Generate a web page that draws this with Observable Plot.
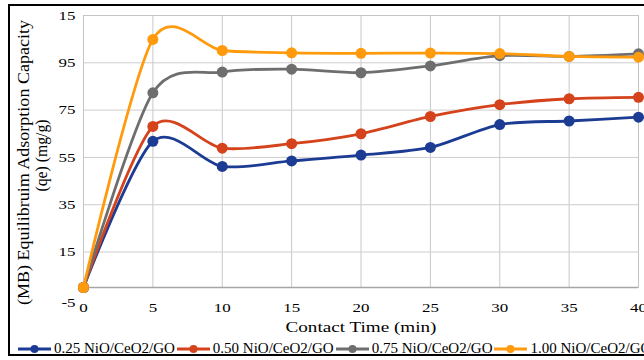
<!DOCTYPE html>
<html><head><meta charset="utf-8">
<script src="https://cdn.jsdelivr.net/npm/d3@7"></script>
<script src="https://cdn.jsdelivr.net/npm/@observablehq/plot@0.6"></script>
<style>
html,body{margin:0;padding:0;background:#fff;overflow:hidden}
#wrap{position:relative;width:644px;height:360px;overflow:hidden;background:#fff}
#border{position:absolute;left:8px;top:4px;width:700px;height:348px;border:2px solid #000}
#chart{position:absolute;left:0;top:0}
#legend{position:absolute;left:18px;top:340px;display:flex;align-items:center;white-space:nowrap;font-family:"Liberation Serif",serif;font-size:15px;line-height:17px;color:#000}
#legend .item{display:flex;align-items:center}
#legend svg{margin-right:3px;display:block}
#legend .lab{margin-right:2px}
</style></head>
<body>
<div id="wrap"><div id="border"></div><div id="chart"></div><div id="legend"></div></div>
<script>
const times = [0, 5, 10, 15, 20, 25, 30, 35, 40];
const seriesNames = ["0.25 NiO/CeO2/GO", "0.50 NiO/CeO2/GO", "0.75 NiO/CeO2/GO", "1.00 NiO/CeO2/GO"];
const qe025 = [0, 61.8, 51.2, 53.5, 56.0, 59.2, 68.9, 70.4, 72.0];
const qe050 = [0, 68.1, 58.9, 60.8, 65.0, 72.3, 77.3, 79.8, 80.4];
const qe075 = [0, 82.3, 91.1, 92.3, 90.8, 93.7, 98.0, 97.7, 98.8];
const qe100 = [0, 104.9, 100.2, 99.2, 99.0, 99.1, 98.9, 97.7, 97.4];
const seriesColors = ["#1c3c94", "#d5431c", "#6e6e6e", "#ff9a0c"];
const xTicks = [0, 5, 10, 15, 20, 25, 30, 35, 40];
const yTicks = [15, 35, 55, 75, 95, 115];
const yTickLabels = ["15", "35", "55", "75", "95", "15"];
const yExtraTick = [-5];
const xTitle = "Contact Time (min)";
const yTitle1 = "(MB) Equilibruim Adsorption Capacity";
const yTitle2 = "(qe) (mg/g)";

const values = [qe025, qe050, qe075, qe100];
const rows = seriesNames.flatMap((s, i) => times.map((t, j) => ({series: s, time: t, qe: values[i][j]})));

const seriesMarks = seriesNames.flatMap(s => {
  const d = rows.filter(r => r.series === s);
  return [
    Plot.line(d, {x: "time", y: "qe", stroke: "series", strokeWidth: 2.8, curve: "cardinal", tension: 0.15}),
    Plot.dot(d, {x: "time", y: "qe", fill: "series", r: 5.5})
  ];
});

const chart = Plot.plot({
  width: 644, height: 360,
  marginLeft: 83, marginRight: 6, marginTop: 15, marginBottom: 73,
  style: {fontFamily: "'Liberation Serif', serif", fontSize: "13px", background: "transparent", color: "#000"},
  x: {domain: [0, 40], label: null},
  y: {domain: [0, 115], label: null},
  color: {domain: seriesNames, range: seriesColors},
  marks: [
    Plot.gridX(xTicks, {stroke: "#c8c8c8", strokeOpacity: 1}),
    Plot.gridY(yTicks, {stroke: "#cdcdcd", strokeOpacity: 1}),
    Plot.frame({stroke: "#c4c4c4"}),
    Plot.ruleY([0], {stroke: "#a6a6a6", strokeWidth: 1.6}),
    Plot.axisX(xTicks, {tickSize: 0, tickPadding: 15, tickFormat: d => String(d), fill: "#000", label: null}),
    Plot.axisY(yTicks, {tickSize: 0, tickPadding: 8, tickFormat: d => yTickLabels[yTicks.indexOf(d)], fill: "#000", label: null}),
    Plot.text(yExtraTick, {y: d => d, frameAnchor: "left", dx: -8, dy: 4, textAnchor: "end", text: d => String(d)}),
    Plot.text([xTitle], {frameAnchor: "bottom", dy: 44, text: d => d, fontSize: 15}),
    Plot.text([yTitle1], {frameAnchor: "left", textAnchor: "middle", rotate: -90, dx: -60, dy: 11, text: d => d, fontSize: 16}),
    Plot.text([yTitle2], {frameAnchor: "left", textAnchor: "middle", rotate: -90, dx: -42, dy: 4, text: d => d, fontSize: 16}),
    ...seriesMarks
  ]
});
document.getElementById("chart").appendChild(chart);

const allText = Array.from(chart.querySelectorAll("text"));
function byContent(s) { return allText.filter(t => t.textContent === s); }
function setLen(t, len) {
  t.setAttribute("textLength", len.toFixed(1));
  t.setAttribute("lengthAdjust", "spacingAndGlyphs");
}
const tickStrings = new Set([...xTicks.map(String), ...yTickLabels, ...yExtraTick.map(String)]);
allText.filter(t => tickStrings.has(t.textContent)).forEach(t => setLen(t, t.getComputedTextLength() * 1.3));
byContent(xTitle).forEach(t => setLen(t, 151));
byContent(yTitle1).forEach(t => setLen(t, 285));
byContent(yTitle2).forEach(t => setLen(t, 72));

const legend = document.getElementById("legend");
seriesNames.forEach((s, i) => {
  const c = seriesColors[i];
  const item = document.createElement("span");
  item.className = "item";
  item.innerHTML = `<svg width="33" height="10"><line x1="0" x2="33" y1="5" y2="5" stroke="${c}" stroke-width="3"/><circle cx="16.5" cy="5" r="4" fill="${c}"/></svg><span class="lab"></span>`;
  item.querySelector(".lab").textContent = s;
  legend.appendChild(item);
});
</script>
</body></html>
